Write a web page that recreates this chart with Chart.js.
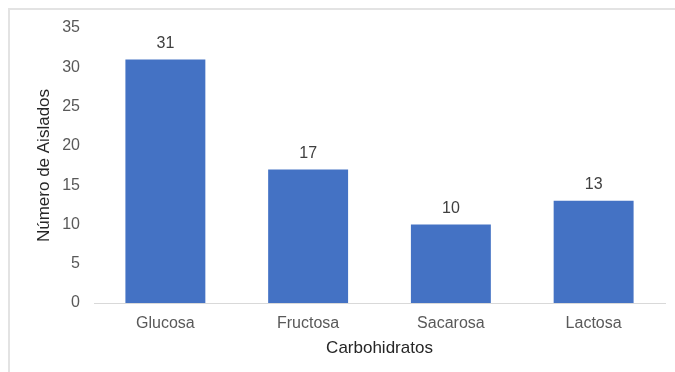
<!DOCTYPE html>
<html>
<head>
<meta charset="utf-8">
<script src="https://cdn.jsdelivr.net/npm/chart.js@4"></script>
<style>
  html, body { margin: 0; padding: 0; background: #fff; }
  #wrap { position: relative; width: 675px; height: 372px; }
  #frame { position: absolute; left: 8px; top: 8px; right: 0; bottom: 0;
           border-left: 2px solid #e3e3e3; border-top: 2px solid #e3e3e3; }
  canvas { position: absolute; left: 0; top: 0; }
</style>
</head>
<body>
<div id="wrap">
  <div id="frame"></div>
  <canvas id="chart" width="675" height="372"></canvas>
</div>
<script>
const categories = ['Glucosa', 'Fructosa', 'Sacarosa', 'Lactosa'];
const aislados = [31, 17, 10, 13];
const yTicks = [0, 5, 10, 15, 20, 25, 30, 35];

const FONT = '"Liberation Sans", Arial, sans-serif';

// value labels above each bar
const barLabels = {
  id: 'barLabels',
  afterDatasetsDraw(chart) {
    const ctx = chart.ctx;
    const meta = chart.getDatasetMeta(0);
    ctx.save();
    ctx.font = '16px ' + FONT;
    ctx.fillStyle = '#404040';
    ctx.textAlign = 'center';
    ctx.textBaseline = 'middle';
    meta.data.forEach((bar, i) => {
      ctx.fillText(String(aislados[i]), bar.x, bar.y - 16);
    });
    ctx.restore();
  }
};

const ctx = document.getElementById('chart').getContext('2d');
new Chart(ctx, {
  type: 'bar',
  data: {
    labels: categories,
    datasets: [{
      data: aislados,
      backgroundColor: '#4472C4',
      barPercentage: 0.56,
      categoryPercentage: 1.0
    }]
  },
  options: {
    responsive: false,
    animation: false,
    layout: { padding: { left: 0, right: 10, top: 28, bottom: 0 } },
    plugins: { legend: { display: false }, tooltip: { enabled: false } },
    scales: {
      x: {
        grid: { display: false, drawTicks: false },
        border: { display: true, color: '#d9d9d9', width: 1 },
        ticks: { color: '#595959', padding: 11, font: { family: FONT, size: 16 } },
        title: { display: true, text: 'Carbohidratos', color: '#262626',
                 padding: { top: 13, bottom: 13 },
                 font: { family: FONT, size: 17 } },
        afterFit(scale) { scale.height = 69; }
      },
      y: {
        min: 0,
        max: 35,
        afterBuildTicks(scale) { scale.ticks = yTicks.map(v => ({ value: v })); },
        grid: { display: false, drawTicks: false },
        border: { display: false },
        ticks: { color: '#595959', padding: 14, font: { family: FONT, size: 16 } },
        title: { display: true, text: 'Número de Aislados', color: '#262626',
                 padding: { top: 34, bottom: 34 },
                 font: { family: FONT, size: 17 } },
        afterFit(scale) { scale.width = 94; }
      }
    }
  },
  plugins: [barLabels]
});
</script>
</body>
</html>
